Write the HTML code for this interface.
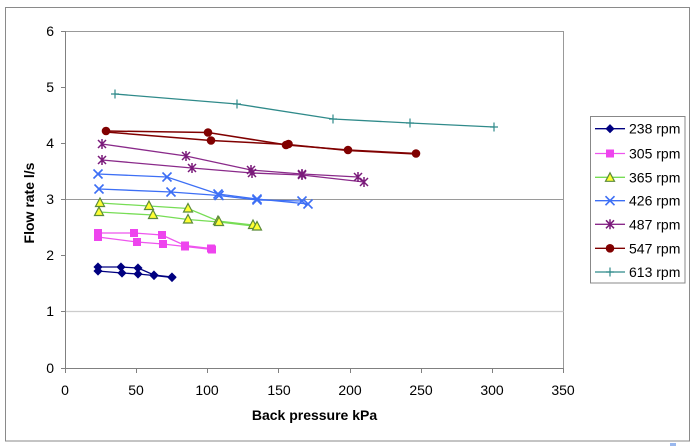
<!DOCTYPE html>
<html><head><meta charset="utf-8"><style>
html,body{margin:0;padding:0;background:#fff;}
svg{display:block;font-family:"Liberation Sans",Arial,sans-serif;}
</style></head><body>
<svg width="694" height="446" viewBox="0 0 694 446" xmlns="http://www.w3.org/2000/svg">
<defs>
<g id="dia"><path d="M0,-4 L4,0 L0,4 L-4,0 Z" fill="#000080" stroke="#000080" stroke-width="0.8"/></g>
<g id="sq"><rect x="-4" y="-4" width="8" height="8" fill="#ee44ee"/></g>
<g id="tri"><path d="M0,-5 L4.5,3.5 L-4.5,3.5 Z" fill="#ffff33" stroke="#5a8a3a" stroke-width="1.2"/></g>
<g id="xm"><path d="M-4.5,-4.5 L4.5,4.5 M-4.5,4.5 L4.5,-4.5" stroke="#3d6ff5" stroke-width="1.6" fill="none"/></g>
<g id="st"><path d="M-4,-4 L4,4 M-4,4 L4,-4 M0,-5 L0,5" stroke="#7a1a7a" stroke-width="1.5" fill="none"/></g>
<g id="ci"><circle r="4.3" fill="#800000"/></g>
<g id="pl"><path d="M-4,0 L4,0 M0,-4.5 L0,4.5" stroke="#2f8a8a" stroke-width="1.2" fill="none"/></g>
</defs>
<rect x="0" y="0" width="694" height="446" fill="#fff"/>
<rect x="5.5" y="7.5" width="684" height="433.5" fill="none" stroke="#8a8a8a" stroke-width="1"/>
<line x1="65" y1="31.5" x2="563.5" y2="31.5" stroke="#999" stroke-width="1"/>
<line x1="563.5" y1="31" x2="563.5" y2="368" stroke="#999" stroke-width="1"/>
<line x1="65" y1="199.5" x2="563.5" y2="199.5" stroke="#9a9a9a" stroke-width="1"/>
<line x1="65" y1="311.5" x2="563.5" y2="311.5" stroke="#cccccc" stroke-width="1.2"/>
<line x1="65.5" y1="31" x2="65.5" y2="368.5" stroke="#808080" stroke-width="1"/>
<line x1="65" y1="368.5" x2="563.5" y2="368.5" stroke="#808080" stroke-width="1"/>
<g stroke="#808080" stroke-width="1">
<line x1="61" y1="31.5" x2="65" y2="31.5"/><line x1="61" y1="87.5" x2="65" y2="87.5"/><line x1="61" y1="143.5" x2="65" y2="143.5"/><line x1="61" y1="199.5" x2="65" y2="199.5"/><line x1="61" y1="255.5" x2="65" y2="255.5"/><line x1="61" y1="311.5" x2="65" y2="311.5"/><line x1="61" y1="368.5" x2="65" y2="368.5"/>
<line x1="65.5" y1="368" x2="65.5" y2="373"/><line x1="136.5" y1="368" x2="136.5" y2="373"/><line x1="207.5" y1="368" x2="207.5" y2="373"/><line x1="278.5" y1="368" x2="278.5" y2="373"/><line x1="350.5" y1="368" x2="350.5" y2="373"/><line x1="421.5" y1="368" x2="421.5" y2="373"/><line x1="492.5" y1="368" x2="492.5" y2="373"/><line x1="563.5" y1="368" x2="563.5" y2="373"/>
</g>
<g font-size="14" fill="#000" text-anchor="end">
<text x="54" y="36">6</text><text x="54" y="92">5</text><text x="54" y="148">4</text><text x="54" y="204">3</text><text x="54" y="260">2</text><text x="54" y="316">1</text><text x="54" y="373">0</text>
</g>
<g font-size="14" fill="#000" text-anchor="middle">
<text x="65" y="395">0</text><text x="136" y="395">50</text><text x="207" y="395">100</text><text x="279" y="395">150</text><text x="350" y="395">200</text><text x="421" y="395">250</text><text x="492" y="395">300</text><text x="563" y="395">350</text>
</g>
<text x="314.5" y="420" font-size="14" font-weight="bold" text-anchor="middle">Back pressure kPa</text>
<text transform="translate(34,203) rotate(-90)" font-size="14" font-weight="bold" text-anchor="middle">Flow rate l/s</text>

<polyline points="115,94 237,104 333,119 410,123 494,127" fill="none" stroke="#2f8a8a" stroke-width="1.3"/>
<use href="#pl" x="115" y="94"/><use href="#pl" x="237" y="104"/><use href="#pl" x="333" y="119"/><use href="#pl" x="410" y="123"/><use href="#pl" x="494" y="127"/>
<polyline points="106,131 208,132.5 287,145 348,150 416,153.5" fill="none" stroke="#800000" stroke-width="1.5"/>
<polyline points="106,132 211,140.5 288,144.5 348,150.5 416,154" fill="none" stroke="#800000" stroke-width="1.5"/>
<use href="#ci" x="106" y="131"/><use href="#ci" x="208" y="132.5"/><use href="#ci" x="211" y="140.5"/><use href="#ci" x="286" y="145"/><use href="#ci" x="288.5" y="144"/><use href="#ci" x="348" y="150"/><use href="#ci" x="416" y="153.5"/>
<polyline points="102,144 186,156 251,170 302,174 358,177" fill="none" stroke="#8a2a8a" stroke-width="1.3"/>
<polyline points="102,160 192,168 252,173 302,175 364,182" fill="none" stroke="#8a2a8a" stroke-width="1.3"/>
<use href="#st" x="102" y="144"/><use href="#st" x="186" y="156"/><use href="#st" x="251" y="170"/><use href="#st" x="302" y="174"/><use href="#st" x="358" y="177"/>
<use href="#st" x="102" y="160"/><use href="#st" x="192" y="168"/><use href="#st" x="252" y="173"/><use href="#st" x="302" y="175"/><use href="#st" x="364" y="182"/>
<polyline points="98,174 167,177 218,194 257,199 308,204" fill="none" stroke="#3d6ff5" stroke-width="1.3"/>
<polyline points="99,189 171,192 219,195.5 257,200 302,201" fill="none" stroke="#3d6ff5" stroke-width="1.3"/>
<use href="#xm" x="98" y="174"/><use href="#xm" x="167" y="177"/><use href="#xm" x="218" y="194"/><use href="#xm" x="257" y="199"/><use href="#xm" x="308" y="204"/>
<use href="#xm" x="99" y="189"/><use href="#xm" x="171" y="192"/><use href="#xm" x="219" y="195.5"/><use href="#xm" x="257" y="200"/><use href="#xm" x="302" y="201"/>
<polyline points="100,203 149,206 188,208.5 218,221 253,225" fill="none" stroke="#77dd55" stroke-width="1.3"/>
<polyline points="99,212 153,215 188,219.5 219,222 257,226.5" fill="none" stroke="#77dd55" stroke-width="1.3"/>
<use href="#tri" x="100" y="203"/><use href="#tri" x="149" y="206"/><use href="#tri" x="188" y="208.5"/><use href="#tri" x="218" y="221"/><use href="#tri" x="253" y="225"/>
<use href="#tri" x="99" y="212"/><use href="#tri" x="153" y="215"/><use href="#tri" x="188" y="219.5"/><use href="#tri" x="219" y="222"/><use href="#tri" x="257" y="226.5"/>
<polyline points="98,233 134,233 162,235 185,245.5 211,248.5" fill="none" stroke="#ee55ee" stroke-width="1.3"/>
<polyline points="98,237 137,242 163,244 185,246.5 212,249.5" fill="none" stroke="#ee55ee" stroke-width="1.3"/>
<use href="#sq" x="98" y="233"/><use href="#sq" x="134" y="233"/><use href="#sq" x="162" y="235"/><use href="#sq" x="185" y="245.5"/><use href="#sq" x="211" y="248.5"/>
<use href="#sq" x="98" y="237"/><use href="#sq" x="137" y="242"/><use href="#sq" x="163" y="244"/><use href="#sq" x="185" y="246.5"/><use href="#sq" x="212" y="249.5"/>
<polyline points="98,267 121,267 138,268 154,275 172,277" fill="none" stroke="#000080" stroke-width="1.3"/>
<polyline points="98,271 122,273 138,274 154,275.5 172,277.5" fill="none" stroke="#000080" stroke-width="1.3"/>
<use href="#dia" x="98" y="267"/><use href="#dia" x="121" y="267"/><use href="#dia" x="138" y="268"/><use href="#dia" x="154" y="275"/><use href="#dia" x="172" y="277"/>
<use href="#dia" x="98" y="271"/><use href="#dia" x="122" y="273"/><use href="#dia" x="138" y="274"/><use href="#dia" x="154" y="275.5"/><use href="#dia" x="172" y="277.5"/>

<rect x="590.5" y="116.5" width="94.5" height="166.5" fill="#fff" stroke="#888" stroke-width="1"/>
<g stroke-width="1.3">
<line x1="595" y1="128.7" x2="625" y2="128.7" stroke="#000080"/>
<line x1="595" y1="153.5" x2="625" y2="153.5" stroke="#ee55ee"/>
<line x1="595" y1="177.3" x2="625" y2="177.3" stroke="#77dd55"/>
<line x1="595" y1="200.7" x2="625" y2="200.7" stroke="#3d6ff5"/>
<line x1="595" y1="224.3" x2="625" y2="224.3" stroke="#8a2a8a"/>
<line x1="595" y1="248.3" x2="625" y2="248.3" stroke="#800000"/>
<line x1="595" y1="272" x2="625" y2="272" stroke="#2f8a8a"/>
</g>
<use href="#dia" x="610" y="128.7"/>
<use href="#sq" x="610" y="153.5"/>
<use href="#tri" x="610" y="177.8"/>
<use href="#xm" x="610" y="200.7"/>
<use href="#st" x="610" y="224.3"/>
<use href="#ci" x="610" y="248.3"/>
<use href="#pl" x="610" y="272"/>
<g font-size="14" fill="#000">
<text x="629" y="133.7">238 rpm</text>
<text x="629" y="158.5">305 rpm</text>
<text x="629" y="182.3">365 rpm</text>
<text x="629" y="205.7">426 rpm</text>
<text x="629" y="229.3">487 rpm</text>
<text x="629" y="253.3">547 rpm</text>
<text x="629" y="277">613 rpm</text>
</g>
<rect x="670" y="443" width="6" height="3" fill="#9ab8ee"/>
</svg>
</body></html>
